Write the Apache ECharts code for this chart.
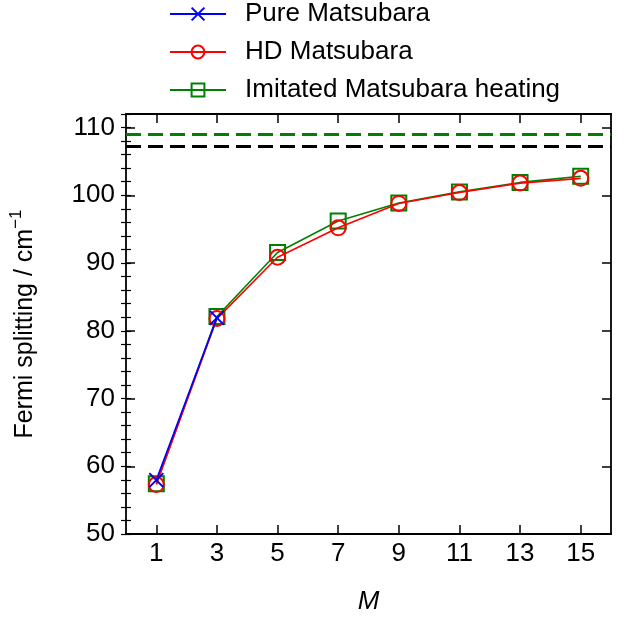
<!DOCTYPE html>
<html>
<head>
<meta charset="utf-8">
<script src="https://cdn.jsdelivr.net/npm/echarts@6/dist/echarts.min.js"></script>
<style>
  html, body { margin: 0; padding: 0; background: #fff; }
  #chart { width: 635px; height: 620px; }
</style>
</head>
<body>
<div id="chart"></div>
<script>
// values
const mValues = [1, 3, 5, 7, 9, 11, 13, 15]
const pureMatsubara = [57.95, 81.9]
const hdMatsubara = [57.3, 81.8, 90.85, 95.2, 98.8, 100.4, 101.8, 102.5]
const imitatedHeating = [57.4, 82.1, 91.55, 96.2, 98.85, 100.5, 101.9, 102.8]
const classicalLimit = 107.2
const imitatedLimit = 109.05
const yMajorTicks = [50, 60, 70, 80, 90, 100, 110]

const font = 'Liberation Sans, Arial, sans-serif'
const fs = 26
const toPairs = (ys) => ys.map((y, i) => [mValues[i], y])

const chart = echarts.init(document.getElementById('chart'))

// frame axes: major ticks + labels, and a second set for minor ticks
const majorY = (pos, labels) => ({
  type: 'value', position: pos, min: 50, max: 112, interval: 10,
  axisLine: { show: true, onZero: false, lineStyle: { color: '#000', width: 1.8 } },
  axisTick: { show: true, inside: true, length: 9, customValues: yMajorTicks, lineStyle: { color: '#000', width: 1.5 } },
  axisLabel: { show: labels, customValues: yMajorTicks, margin: 11, fontSize: fs, color: '#000', fontFamily: font },
  splitLine: { show: false }
})
const minorY = (pos) => ({
  type: 'value', position: pos, min: 50, max: 112, interval: 2,
  axisLine: { show: false },
  axisTick: { show: true, inside: true, length: 5, lineStyle: { color: '#000', width: 1.2 } },
  axisLabel: { show: false },
  splitLine: { show: false }
})
const xAxisAt = (pos, labels) => ({
  type: 'value', position: pos, min: 0, max: 16,
  axisLine: { show: true, onZero: false, lineStyle: { color: '#000', width: 1.8 } },
  axisTick: { show: true, inside: true, length: 9, customValues: mValues, lineStyle: { color: '#000', width: 1.5 } },
  axisLabel: { show: labels, customValues: mValues, margin: 7, fontSize: fs, color: '#000', fontFamily: font },
  splitLine: { show: false }
})

const xBottom = xAxisAt('bottom', true)
xBottom.name = 'M'
xBottom.nameLocation = 'middle'
xBottom.nameGap = 55
xBottom.nameTextStyle = { fontSize: fs, fontStyle: 'italic', color: '#000', fontFamily: font }

const yLeft = majorY('left', true)
yLeft.name = '{a|Fermi splitting / cm}{s|−1}'
yLeft.nameLocation = 'middle'
yLeft.nameGap = 84
yLeft.nameTextStyle = {
  color: '#000', fontFamily: font,
  rich: {
    a: { fontSize: 25, lineHeight: 34, color: '#000', fontFamily: font },
    s: { fontSize: 17, lineHeight: 20, verticalAlign: 'top', color: '#000', fontFamily: font }
  }
}

const lineSeries = (name, ys, color, symbol, size, z) => ({
  name, type: 'line', data: toPairs(ys),
  xAxisIndex: 0, yAxisIndex: 0,
  symbol, symbolSize: size, z,
  lineStyle: { color, width: 1.6 },
  itemStyle: { color: 'rgba(0,0,0,0)', borderColor: color, borderWidth: 2 }
})

chart.setOption({
  animation: false,
  backgroundColor: '#fff',
  textStyle: { fontFamily: font },
  grid: { left: 126, right: 24, top: 114, bottom: 85 },
  legend: {
    orient: 'vertical', left: 164, top: -4,
    itemWidth: 56, itemHeight: 16, itemGap: 12,
    data: ['Pure Matsubara', 'HD Matsubara', 'Imitated Matsubara heating'],
    textStyle: { fontSize: fs, lineHeight: 26, color: '#000', fontFamily: font, padding: [0, 0, 0, 14] }
  },
  xAxis: [xBottom, xAxisAt('top', false)],
  yAxis: [yLeft, minorY('left'), majorY('right', false), minorY('right')],
  series: [
    {
      type: 'line', data: [], xAxisIndex: 0, yAxisIndex: 0, silent: true,
      markLine: {
        symbol: ['none', 'none'], silent: true, label: { show: false },
        lineStyle: { type: [15, 7], width: 3 },
        data: [
          { yAxis: imitatedLimit, lineStyle: { color: '#008000', type: [15, 7], width: 3 } },
          { yAxis: classicalLimit, lineStyle: { color: '#000', type: [15, 7], width: 3 } }
        ]
      }
    },
    lineSeries('Imitated Matsubara heating', imitatedHeating, '#008000', 'rect', 15, 2),
    lineSeries('HD Matsubara', hdMatsubara, '#ff0000', 'circle', 15, 3),
    lineSeries('Pure Matsubara', pureMatsubara, '#0000ff', 'path://M0,0L10,10M10,0L0,10', 14, 4)
  ]
})
</script>
</body>
</html>
